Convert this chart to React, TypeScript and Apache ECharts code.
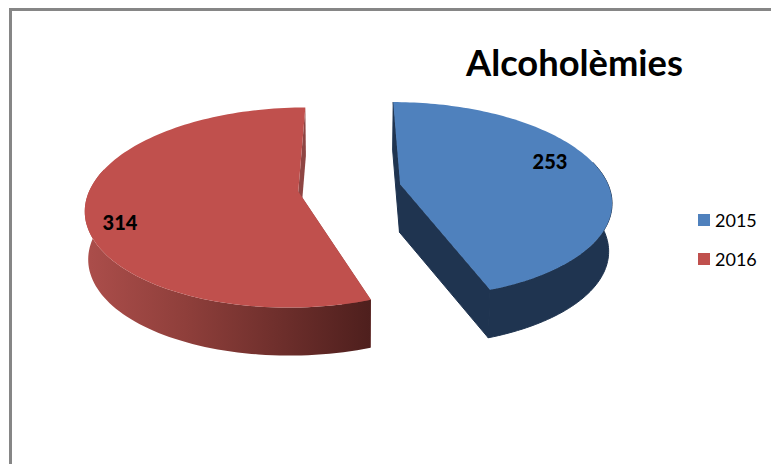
import React, { useEffect, useRef } from "react";
import * as echarts from "echarts";

const years = ["2015", "2016"];
const values = [253, 314];
const topColors = ["#4F81BD", "#C0504D"];
const titleText = "Alcoholèmies";

const VIEW = { ox: 349.5, oy: 190, rx: 213, ry: 97, k: 0.16, depth: 48, shrink: 0.987 };
const SLICE_VIEW = [
  { ex: 0.24, ev: -0.06, sx: 0.985 },
  { ex: -0.24, ev: 0.015, sx: 0.98 },
];
const LABEL_XY = [[550, 161], [120, 222]];
const total = values.reduce((a, b) => a + b, 0);

function project(X: number, V: number, low: boolean) {
  const w = 1 - VIEW.k * V;
  const x = VIEW.rx * X / w;
  const y = VIEW.oy + VIEW.ry * V / w;
  return low ? [VIEW.ox + x * VIEW.shrink, y + VIEW.depth] : [VIEW.ox + x, y];
}

function renderSlice(seriesIdx: number) {
  return (_params: any, api: any) => {
    const v = api.value(0);
    let acc = 0;
    for (let i = 0; i < seriesIdx; i++) acc += values[i];
    const a0 = (acc / total) * Math.PI * 2;
    const a1 = ((acc + v) / total) * Math.PI * 2;
    const { ex, ev, sx } = SLICE_VIEW[seriesIdx];
    const N = 120;
    const angles: number[] = [];
    for (let i = 0; i <= N; i++) angles.push(a0 + ((a1 - a0) * i) / N);
    const pointAt = (t: number, low: boolean) => project(ex + sx * Math.sin(t), ev - Math.cos(t), low);
    const topArc = angles.map((t) => pointAt(t, false));
    const lowArc = angles.map((t) => pointAt(t, true));
    // Only the part of the rim that faces the viewer gets a wall.
    const front = angles.filter((t) => -Math.cos(t) >= -0.25);
    const frontTop = front.map((t) => pointAt(t, false));
    const frontLow = front.map((t) => pointAt(t, true));
    const cTop = project(ex, ev, false);
    const cLow = project(ex, ev, true);
    const color = api.visual("color");
    const wallFill: any = seriesIdx === 0
      ? "#1F3450"
      : { type: "linear", x: 0, y: 0, x2: 1, y2: 0, colorStops: [
          { offset: 0, color: "#AC4E4B" }, { offset: 0.35, color: "#8F3F3B" }, { offset: 1, color: "#4E1F1D" } ] };
    const cutFill = seriesIdx === 0 ? "#1F3450" : "#8E4543";
    const poly = (points: number[][], fill: any, seam?: string) => ({
      type: "polygon", silent: true, shape: { points },
      style: { fill, stroke: seam || "none", lineWidth: seam ? 1 : 0 },
    });
    const seam = seriesIdx === 0 ? "#1F3450" : undefined;
    return {
      type: "group",
      children: [
        poly([cTop, topArc[0], lowArc[0], cLow], cutFill, seam),
        poly([cTop, topArc[N], lowArc[N], cLow], cutFill, seam),
        poly([...frontTop, ...frontLow.slice().reverse()], wallFill, seam),
        poly([cTop, ...topArc], color),
        {
          type: "text",
          silent: true,
          x: LABEL_XY[seriesIdx][0],
          y: LABEL_XY[seriesIdx][1],
          style: { text: String(v), fill: "#000", font: "900 20px Lato", align: "center", verticalAlign: "middle" },
        },
      ],
    };
  };
}

export default function App() {
  const ref = useRef<HTMLDivElement>(null);
  useEffect(() => {
    document.body.style.margin = "0";
    const chart = echarts.init(ref.current!, null, { renderer: "svg" });
    chart.setOption({
      animation: false,
      backgroundColor: "#fff",
      title: { text: titleText, left: 466, top: 44, padding: 0, textStyle: { fontFamily: "Lato", fontWeight: "bold", fontSize: 36.3, color: "#000" } },
      legend: {
        orient: "vertical", left: 698, top: 211, padding: 0, itemWidth: 12, itemHeight: 12, itemGap: 21, icon: "rect",
        selectedMode: false, data: years,
        textStyle: { fontFamily: "Lato", fontSize: 18, color: "#000" },
      },
      graphic: [{ type: "rect", silent: true, z: -1, shape: { x: 10.5, y: 9.5, width: 800, height: 500 }, style: { fill: "none", stroke: "#868686", lineWidth: 3 } }],
      series: years.map((y, i) => ({
        type: "custom", name: y, coordinateSystem: "none", silent: true,
        itemStyle: { color: topColors[i] }, data: [[values[i]]], renderItem: renderSlice(i),
      })),
    });
    return () => chart.dispose();
  }, []);
  return <div ref={ref} style={{ width: 771, height: 464 }} />;
}
